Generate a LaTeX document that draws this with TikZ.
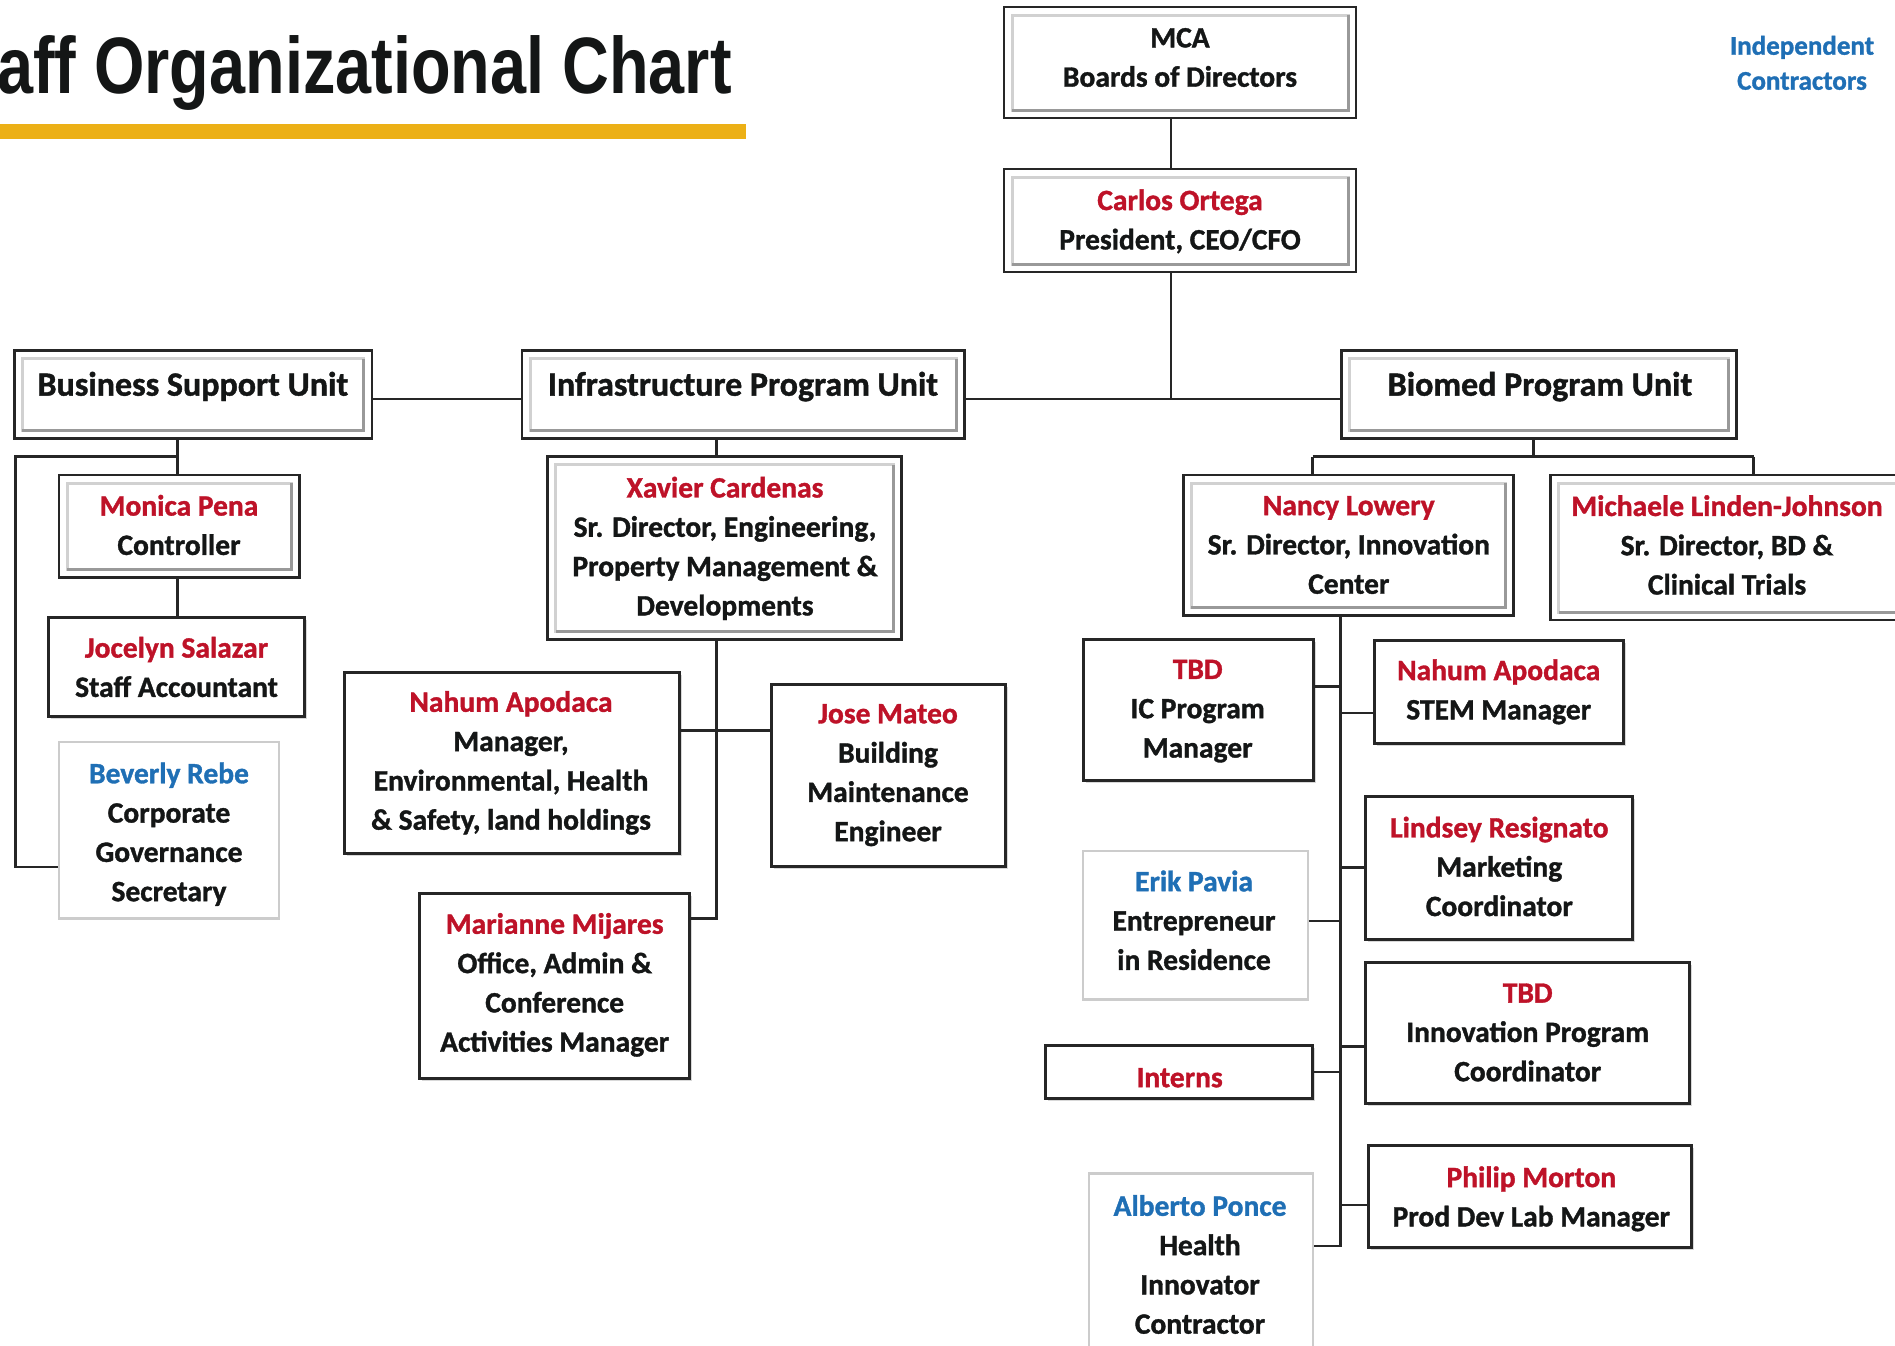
\documentclass[tikz,border=0pt]{standalone}
\usepackage{fontspec}
\usepackage{graphicx}
\setmainfont{Carlito}[BoldFeatures={FakeBold=1.2}]
\newfontfamily\titlefont{Liberation Sans}
\usetikzlibrary{shadows}
\definecolor{nred}{RGB}{190,18,40}
\definecolor{nblue}{RGB}{31,111,181}
\definecolor{gold}{RGB}{236,176,22}
\definecolor{inkc}{RGB}{20,22,22}
\newcommand{\nm}[1]{\textcolor{nred}{#1}}
\newcommand{\bl}[1]{\textcolor{nblue}{#1}}
\newcommand{\topst}{\rule{0pt}{0.76em}}
\newcommand{\botst}{\rule[-0.28em]{0pt}{0.28em}}
\tikzset{
  bevelbox/.style={draw=black!85, line width=2.8pt, fill=white, inner sep=0pt,
    path picture={
      \draw[black!18, line width=3pt]
        ([shift={(8pt,-8pt)}]path picture bounding box.north west) rectangle
        ([shift={(-8pt,8pt)}]path picture bounding box.south east);
      \draw[black!40, line width=3pt]
        ([shift={(-8pt,-8pt)}]path picture bounding box.north east) --
        ([shift={(-8pt,8pt)}]path picture bounding box.south east) --
        ([shift={(8pt,8pt)}]path picture bounding box.south west);
    }},
  plainbox/.style={draw=black!85, line width=3pt, fill=white, inner sep=0pt,
    drop shadow={shadow xshift=2.5pt, shadow yshift=-2.5pt, opacity=0.3}},
  greybox/.style={draw=black!20, line width=2.2pt, fill=white, inner sep=0pt},
  txt/.style={align=center, inner sep=0pt, text=inkc, yshift=-4.5pt,
    font=\bfseries\fontsize{29.5}{39.3}\selectfont,
    execute at begin node=\topst, execute at end node=\botst},
  unittxt/.style={txt, font=\bfseries\fontsize{34}{40}\selectfont},
  conn/.style={draw=black!85, line width=2.8pt}
}
\begin{document}
\begin{tikzpicture}[x=1pt,y=-1pt]
\useasboundingbox (0,0) rectangle (1895,1345);
\fill[white] (0,0) rectangle (1895,1345);

% title
\node[anchor=base west, inner sep=0pt, text=inkc] (title) at (-3,93)
  {\scalebox{0.81}[1]{\titlefont\bfseries\fontsize{80}{80}\selectfont aff Organizational Chart}};
\fill[gold] (0,124) rectangle (746,139);

% legend
\node[txt, text=nblue, font=\bfseries\fontsize{27}{35}\selectfont] (ind) at (1802,62) {Independent\\Contractors};

% boxes
\node[bevelbox, minimum width=352, minimum height=111] (mca) at (1180,62.5) {};
\node[bevelbox, minimum width=352, minimum height=103] (car) at (1180,220.5) {};
\node[bevelbox, minimum width=357.5, minimum height=88] (bsu) at (193.2,394.6) {};
\node[bevelbox, minimum width=442.5, minimum height=88] (ipu) at (743.3,394.6) {};
\node[bevelbox, minimum width=395.3, minimum height=88] (bio) at (1539.2,394.6) {};
\node[bevelbox, minimum width=240.7, minimum height=102.7] (mon) at (179.4,526.4) {};
\node[plainbox, minimum width=256.3, minimum height=99.1] (joc) at (176.5,667.2) {};
\node[greybox, minimum width=220, minimum height=176.5] (bev) at (169.2,830.3) {};
\node[bevelbox, minimum width=354.1, minimum height=182.5] (xav) at (724.6,548) {};
\node[plainbox, minimum width=334.7, minimum height=181.3] (nah) at (511.9,762.7) {};
\node[plainbox, minimum width=234.6, minimum height=182.6] (jos) at (888.3,775.3) {};
\node[plainbox, minimum width=269.6, minimum height=184.8] (mar) at (554.2,985.6) {};
\node[bevelbox, minimum width=330, minimum height=140.2] (nan) at (1348.2,545.1) {};
\node[bevelbox, minimum width=354.8, minimum height=145] (mic) at (1728,547.5) {};
\node[plainbox, minimum width=230.7, minimum height=141.5] (tbd) at (1198.4,710) {};
\node[plainbox, minimum width=249, minimum height=102.7] (stm) at (1498.7,692) {};
\node[plainbox, minimum width=267.1, minimum height=142.6] (lin) at (1499.3,867.7) {};
\node[greybox, minimum width=224.8, minimum height=148.6] (eri) at (1195.4,925.2) {};
\node[plainbox, minimum width=323.9, minimum height=141.5] (tbi) at (1527.7,1032.8) {};
\node[plainbox, minimum width=267.1, minimum height=53.2] (int) at (1179,1072) {};
\node[plainbox, minimum width=323.9, minimum height=101.5] (phi) at (1530,1196.5) {};
\node[greybox, minimum width=223.6, minimum height=187] (alb) at (1200.8,1267) {};

% texts
\node[txt] (mca-t) at (1180,57) {MCA\\Boards of Directors};
\node[txt] (car-t) at (1180,219) {\nm{Carlos Ortega}\\President, CEO/CFO};
\node[unittxt] (bsu-t) at (192.8,383) {Business Support Unit};
\node[unittxt] (ipu-t) at (743,383) {Infrastructure Program Unit};
\node[unittxt] (bio-t) at (1540,383) {Biomed Program Unit};
\node[txt] (mon-t) at (179,524.5) {\nm{Monica Pena}\\Controller};
\node[txt] (joc-t) at (176.5,666.5) {\nm{Jocelyn Salazar}\\Staff Accountant};
\node[txt] (bev-t) at (169,831.5) {\bl{Beverly Rebe}\\Corporate\\Governance\\Secretary};
\node[txt] (xav-t) at (725,545.7) {\nm{Xavier Cardenas}\\Sr. Director, Engineering,\\Property Management \&\\Developments};
\node[txt] (nah-t) at (511,760) {\nm{Nahum Apodaca}\\Manager,\\Environmental, Health\\\& Safety, land holdings};
\node[txt] (jos-t) at (888,772.3) {\nm{Jose Mateo}\\Building\\Maintenance\\Engineer};
\node[txt] (mar-t) at (554.7,982) {\nm{Marianne Mijares}\\Office, Admin \&\\Conference\\Activities Manager};
\node[txt] (nan-t) at (1348.8,544.5) {\nm{Nancy Lowery}\\Sr. Director, Innovation\\Center};
\node[txt] (mic-t) at (1727,544.5) {\nm{Michaele Linden-Johnson}\\Sr. Director, BD \&\\Clinical Trials};
\node[txt] (tbd-t) at (1197.7,708.3) {\nm{TBD}\\IC Program\\Manager};
\node[txt] (stm-t) at (1498.7,689) {\nm{Nahum Apodaca}\\STEM Manager};
\node[txt] (lin-t) at (1499.3,866) {\nm{Lindsey Resignato}\\Marketing\\Coordinator};
\node[txt] (eri-t) at (1194,919.8) {\bl{Erik Pavia}\\Entrepreneur\\in Residence};
\node[txt] (tbi-t) at (1527.7,1032) {\nm{TBD}\\Innovation Program\\Coordinator};
\node[txt] (int-t) at (1179.6,1075.6) {\nm{Interns}};
\node[txt] (phi-t) at (1531.3,1196) {\nm{Philip Morton}\\Prod Dev Lab Manager};
\node[txt] (alb-t) at (1200,1264) {\bl{Alberto Ponce}\\Health\\Innovator\\Contractor};

% connectors: top
\coordinate (trunk) at (1171,399);
\draw[conn] (mca.south -| trunk) -- (car.north -| trunk);
\draw[conn] (car.south -| trunk) -- (trunk);
\draw[conn] (bsu.east |- trunk) -- (ipu.west |- trunk);
\draw[conn] (ipu.east |- trunk) -- (bio.west |- trunk);

% business support
\coordinate (bsuj) at (177.7,456.8);
\coordinate (bsul) at (15.7,456.8);
\coordinate (bevc) at ([yshift=-36.6pt]bev.west);
\draw[conn] (bsu.south -| bsuj) -- (mon.north -| bsuj);
\draw[conn] (bsuj) -- (bsul) -- (bsul |- bevc) -- (bevc);
\draw[conn] (mon.south -| bsuj) -- (joc.north -| bsuj);

% infrastructure
\coordinate (ipuj) at (716.7,456.8);
\coordinate (marc) at ([yshift=67pt]mar.east);
\coordinate (nahc) at ([yshift=32.6pt]nah.east);
\draw[conn] (ipu.south -| ipuj) -- (xav.north -| ipuj);
\draw[conn] (xav.south -| ipuj) |- (marc);
\draw[conn] (nahc) -- (nahc -| jos.west);

% biomed
\coordinate (bioj) at (1533.7,456.8);
\coordinate (nanx) at (1312.5,456.8);
\coordinate (micx) at (1753.7,456.8);
\draw[conn] (bio.south -| bioj) -- (bioj);
\draw[conn] (nanx) -- (micx);
\draw[conn] (nanx) -- (nan.north -| nanx);
\draw[conn] (micx) -- (mic.north -| micx);

\coordinate (sp) at (1340.3,0);
\coordinate (albc) at ([yshift=21pt]alb.east);
\draw[conn] (nan.south -| sp) -- (albc -| sp) -- (albc);
\coordinate (tbdc) at ([yshift=23.5pt]tbd.east);
\coordinate (stmc) at ([yshift=-21pt]stm.west);
\coordinate (linc) at (lin.west);
\coordinate (eric) at ([yshift=4.2pt]eri.east);
\coordinate (tbic) at ([yshift=-13.8pt]tbi.west);
\coordinate (intc) at (int.east);
\coordinate (phic) at ([yshift=-8.5pt]phi.west);
\draw[conn] (tbdc) -- (tbdc -| sp);
\draw[conn] (stmc) -- (stmc -| sp);
\draw[conn] (linc) -- (linc -| sp);
\draw[conn] (eric) -- (eric -| sp);
\draw[conn] (tbic) -- (tbic -| sp);
\draw[conn] (intc) -- (intc -| sp);
\draw[conn] (phic) -- (phic -| sp);
\end{tikzpicture}
\end{document}
